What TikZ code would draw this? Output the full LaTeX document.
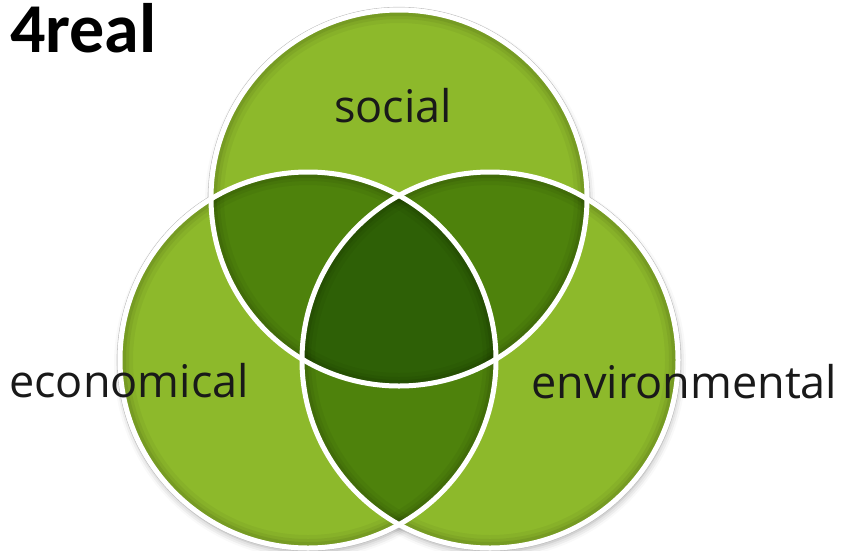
\documentclass[tikz,border=0pt]{standalone}
\usepackage{fontspec}
\setmainfont{Open Sans}
\newfontfamily\titlefont{Carlito}
\usetikzlibrary{shadows.blur}

\definecolor{lightgreen}{RGB}{141,185,43}
\definecolor{midgreen}{RGB}{78,130,12}
\definecolor{darkgreen}{RGB}{46,96,6}

\tikzset{
  label/.style={anchor=base west, inner sep=0pt, font=\fontsize{45}{54}\selectfont, text=black!90},
  ring/.style={draw=white, line width=5pt}
}

\begin{document}
\begin{tikzpicture}[x=1pt, y=-1pt]
            \useasboundingbox (0, 0) rectangle (848, 550);
            \coordinate (top) at (399, 198);
            \coordinate (left) at (308, 360);
            \coordinate (right) at (490, 360);
            \def\rad{188}
            % shadows and thin grey edge
            \foreach \c in {top, left, right}
                \path[blur shadow={shadow xshift=1pt, shadow yshift=-4pt, shadow blur radius=7pt, shadow opacity=35}] (\c) circle (\rad);
            \foreach \c in {top, left, right}
                \draw[black!25, line width=.6pt] (\c) circle (\rad+2.8);
            % single regions
            \foreach \c in {top, left, right}
                \fill[lightgreen] (\c) circle (\rad);
            % pairwise overlaps
            \begin{scope}
                \clip (top) circle (\rad);
                \fill[midgreen] (left) circle (\rad);
                \fill[midgreen] (right) circle (\rad);
            \end{scope}
            \begin{scope}
                \clip (left) circle (\rad);
                \fill[midgreen] (right) circle (\rad);
            \end{scope}
            % centre
            \begin{scope}
                \clip (top) circle (\rad);
                \clip (left) circle (\rad);
                \fill[darkgreen] (right) circle (\rad);
            \end{scope}
            % inner shading along the rims
            \foreach \c in {top, left, right} {
                \begin{scope}
                    \clip (\c) circle (\rad);
                    \foreach \w/\o in {26/0.04, 18/0.05, 12/0.07}
                        \draw[black, opacity=\o, line width=\w pt] (\c) circle (\rad);
                \end{scope}
            }
            \foreach \c in {top, left, right}
                \draw[ring] (\c) circle (\rad);
            % texts
            \node[anchor=base west, inner sep=0pt, font=\titlefont\bfseries\fontsize{70}{84}\selectfont] (title) at (10, 52) {4real};
            \node[label] (social) at (334, 122) {social};
            \node[label] (econ) at (9, 397) {economical};
            \node[label] (env) at (531, 398) {environmental};
        \end{tikzpicture}
\end{document}
